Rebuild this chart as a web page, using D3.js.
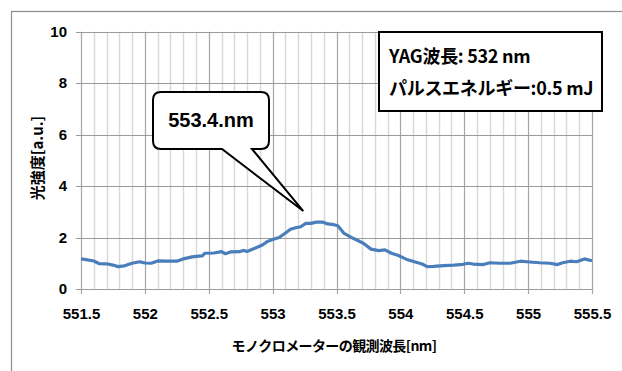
<!DOCTYPE html>
<html>
<head>
<meta charset="utf-8">
<script src="https://cdn.jsdelivr.net/npm/d3@7"></script>
<style>
body { margin: 0; background: #fff; }
svg { display: block; }
</style>
</head>
<body>
<div id="container"></div>
<script>
const wavelength = [551.50, 551.54, 551.60, 551.64, 551.70, 551.75, 551.79, 551.84, 551.90, 551.96,
    552.00, 552.05, 552.10, 552.17, 552.25, 552.30, 552.37, 552.42, 552.45, 552.47,
    552.54, 552.60, 552.63, 552.67, 552.74, 552.77, 552.80, 552.87, 552.92, 552.96,
    553.00, 553.05, 553.09, 553.14, 553.18, 553.22, 553.26, 553.30, 553.34, 553.39,
    553.43, 553.48, 553.51, 553.56, 553.63, 553.71, 553.77, 553.83, 553.88, 553.93,
    553.98, 554.05, 554.11, 554.17, 554.21, 554.26, 554.34, 554.42, 554.49, 554.53,
    554.57, 554.65, 554.70, 554.78, 554.86, 554.94, 555.01, 555.09, 555.17, 555.23,
    555.27, 555.33, 555.38, 555.44, 555.50];
const intensity = [1.17, 1.14, 1.09, 0.99, 0.98, 0.93, 0.87, 0.90, 1.00, 1.06,
    1.01, 1.00, 1.09, 1.08, 1.08, 1.17, 1.25, 1.28, 1.29, 1.39,
    1.40, 1.45, 1.37, 1.44, 1.45, 1.50, 1.46, 1.60, 1.71, 1.85,
    1.92, 2.00, 2.14, 2.32, 2.38, 2.42, 2.55, 2.55, 2.60, 2.60,
    2.53, 2.50, 2.46, 2.16, 1.97, 1.78, 1.55, 1.49, 1.52, 1.39,
    1.31, 1.15, 1.06, 0.97, 0.87, 0.88, 0.91, 0.93, 0.96, 1.00,
    0.97, 0.95, 1.02, 1.00, 1.00, 1.08, 1.05, 1.02, 1.00, 0.95,
    1.02, 1.08, 1.06, 1.17, 1.10];
const xTicks = [551.5, 552, 552.5, 553, 553.5, 554, 554.5, 555, 555.5];
const yTicks = [0, 2, 4, 6, 8, 10];
const peakLabel = '553.4.nm';
const peakAt = [553.24, 3.03];
const infoLines = ['YAG波長: 532 nm', 'パルスエネルギー:0.5 mJ'];

const W = 622, H = 371;
const plotL = 81, plotR = 592, plotT = 31.7, plotB = 289;
const numFont = '"Liberation Sans Narrow", "Liberation Sans", sans-serif';
const jpFont = '"Noto Sans CJK JP", sans-serif';

const x = d3.scaleLinear().domain([551.5, 555.5]).range([plotL, plotR]);
const y = d3.scaleLinear().domain([0, 10]).range([plotB, plotT]);

const svg = d3.select('#container').append('svg')
    .attr('width', W).attr('height', H);

svg.append('rect').attr('width', W).attr('height', H).style('fill', '#fff');

// outer chart frame (cut off at right/bottom)
svg.append('rect')
    .attr('x', 11.5).attr('y', 11.5)
    .attr('width', W + 10).attr('height', H + 10)
    .style('fill', 'none').style('stroke', '#8c8c8c').style('stroke-width', 1.2);

// minor vertical grid
const minor = d3.range(0, 41).map((i) => 551.5 + i * 0.1).filter((v, i) => i % 5 !== 0);
svg.append('g').selectAll('line').data(minor).enter().append('line')
    .attr('x1', (d) => Math.round(x(d)) + 0.5).attr('x2', (d) => Math.round(x(d)) + 0.5)
    .attr('y1', plotT).attr('y2', plotB)
    .style('stroke', '#d9d9d9').style('stroke-width', 1.5);

// major vertical grid
svg.append('g').selectAll('line').data(xTicks).enter().append('line')
    .attr('x1', (d) => Math.round(x(d)) + 0.5).attr('x2', (d) => Math.round(x(d)) + 0.5)
    .attr('y1', plotT).attr('y2', plotB + 5)
    .style('stroke', '#a6a6a6').style('stroke-width', 1.2);

// horizontal grid
svg.append('g').selectAll('line').data(yTicks).enter().append('line')
    .attr('x1', plotL - 5).attr('x2', plotR)
    .attr('y1', (d) => Math.round(y(d)) + 0.5).attr('y2', (d) => Math.round(y(d)) + 0.5)
    .style('stroke', '#9a9a9a').style('stroke-width', 1.2);

// y axis
const yAxis = svg.append('g').attr('transform', `translate(${plotL} 0)`)
    .call(d3.axisLeft(y).tickValues(yTicks).tickSize(0).tickPadding(14));
yAxis.select('.domain').remove();
yAxis.selectAll('text')
    .style('font-family', numFont).style('font-weight', 'bold')
    .style('font-size', '15px').style('fill', '#000');

// x axis
const xAxis = svg.append('g').attr('transform', `translate(0 ${plotB})`)
    .call(d3.axisBottom(x).tickValues(xTicks).tickSize(0).tickPadding(19).tickFormat(d3.format('')));
xAxis.select('.domain').remove();
xAxis.selectAll('text')
    .style('font-family', numFont).style('font-weight', 'bold')
    .style('font-size', '15px').style('fill', '#000');

// axis titles
svg.append('text')
    .attr('x', 334).attr('y', 351)
    .attr('text-anchor', 'middle')
    .style('font-family', jpFont).style('font-weight', 'bold')
    .style('font-size', '14px').style('letter-spacing', '-0.6px')
    .text('モノクロメーターの観測波長[nm]');

svg.append('text')
    .attr('transform', 'translate(43 158) rotate(-90)')
    .attr('text-anchor', 'middle')
    .style('font-family', jpFont).style('font-weight', 'bold')
    .style('font-size', '15px')
    .text('光強度[a.u.]');

// data line
const points = wavelength.map((w, i) => [w, intensity[i]]);
svg.append('path')
    .datum(points)
    .attr('d', d3.line().x((d) => x(d[0])).y((d) => y(d[1])))
    .style('fill', 'none')
    .style('stroke', '#4a7ebb')
    .style('stroke-width', 3.2)
    .style('stroke-linejoin', 'round');

// callout
const bx0 = 153, by0 = 92, bx1 = 269, by1 = 149, r = 8;
const tx = x(peakAt[0]), ty = y(peakAt[1]);
const callout = d3.path();
callout.moveTo(bx0 + r, by0);
callout.lineTo(bx1 - r, by0);
callout.quadraticCurveTo(bx1, by0, bx1, by0 + r);
callout.lineTo(bx1, by1 - r);
callout.quadraticCurveTo(bx1, by1, bx1 - r, by1);
callout.lineTo(252, by1);
callout.lineTo(tx, ty);
callout.lineTo(222, by1);
callout.lineTo(bx0 + r, by1);
callout.quadraticCurveTo(bx0, by1, bx0, by1 - r);
callout.lineTo(bx0, by0 + r);
callout.quadraticCurveTo(bx0, by0, bx0 + r, by0);
callout.closePath();
svg.append('path').attr('d', callout.toString())
    .style('fill', '#fff').style('stroke', '#000').style('stroke-width', 2)
    .style('stroke-linejoin', 'miter');

svg.append('text')
    .attr('x', (bx0 + bx1) / 2).attr('y', 127)
    .attr('text-anchor', 'middle')
    .style('font-family', numFont).style('font-weight', 'bold')
    .style('font-size', '20px')
    .text(peakLabel);

// info box
svg.append('rect')
    .attr('x', 379).attr('y', 32).attr('width', 223).attr('height', 79)
    .style('fill', '#fff').style('stroke', '#000').style('stroke-width', 2);

svg.append('g').selectAll('text').data(infoLines).enter().append('text')
    .attr('x', 389).attr('y', (d, i) => 63 + i * 32)
    .style('font-family', jpFont).style('font-weight', 'bold')
    .style('font-size', '18px').style('letter-spacing', '-0.3px')
    .text((d) => d);
</script>
</body>
</html>
